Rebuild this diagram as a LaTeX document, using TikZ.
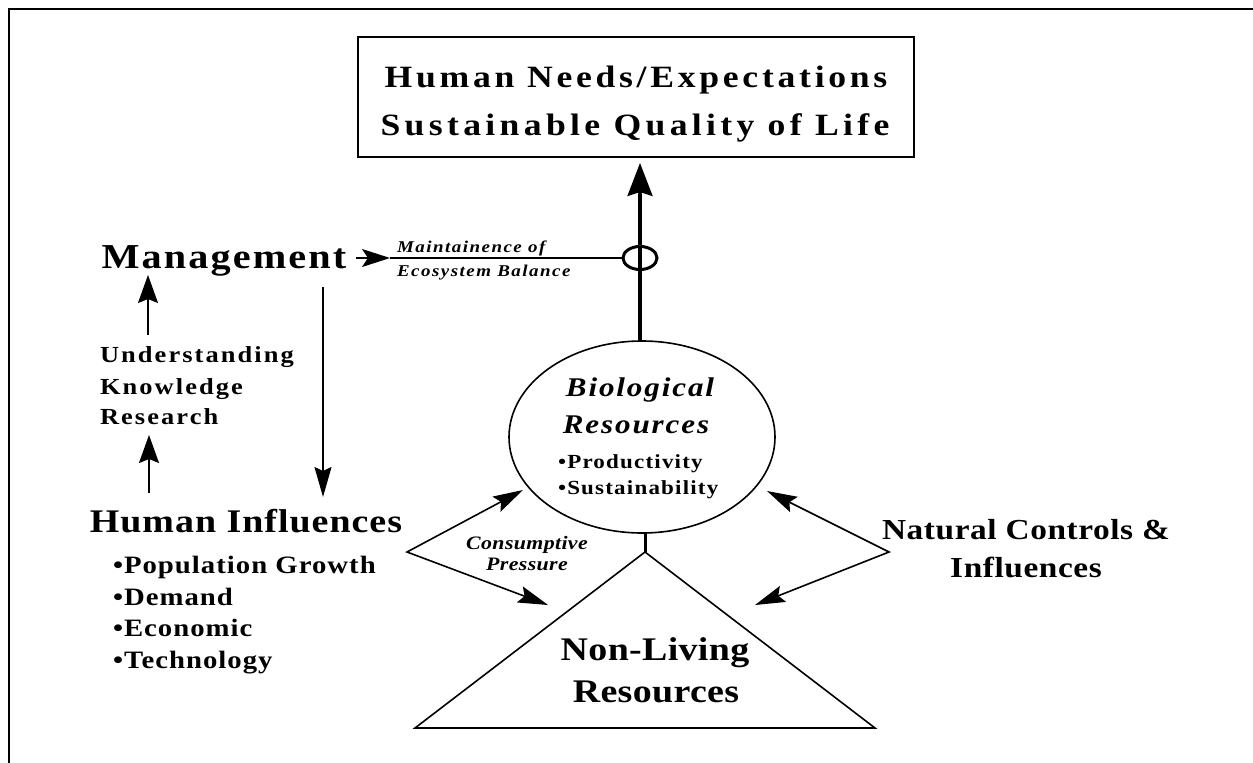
\documentclass[tikz,border=0pt]{standalone}
\usepackage{fontspec}
\setmainfont{Liberation Serif}
\usetikzlibrary{arrows.meta,shapes.geometric}
\newcommand\lsb[3]{{\fontsize{#1}{#1}\selectfont\bfseries\addfontfeatures{FakeStretch=1.15,LetterSpace=#2}#3}}
\newcommand\lsi[3]{{\fontsize{#1}{#1}\selectfont\bfseries\itshape\addfontfeatures{FakeStretch=1.15,LetterSpace=#2}#3}}
\begin{document}
\begin{tikzpicture}[x=1pt,y=-1pt,
  every node/.style={inner sep=0pt, outer sep=0pt},
  ln/.style={line width=1.6pt},
  uparr/.style={ln,-{Stealth[length=28pt,width=20pt,inset=4pt]}},
  dnarr/.style={ln,-{Stealth[length=30pt,width=17pt,inset=4pt]}},
  mgarr/.style={ln,-{Stealth[length=28pt,width=18pt,inset=6pt]}},
  bigarr/.style={line width=3.2pt,-{Stealth[length=33pt,width=25pt,inset=4pt]}},
  dbl/.style={ln,line join=miter,{Stealth[length=30pt,width=17pt,inset=5pt]}-{Stealth[length=30pt,width=17pt,inset=5pt]}},
  shapeline/.style={ln,draw}
]
\useasboundingbox (0,0) rectangle (1253,763);
% frame
\draw[line width=2pt] (9,763) -- (9,9) -- (1253,9);

% title box
\node[shapeline, minimum width=556pt, minimum height=120pt] (title) at (636,97) {};
\node[anchor=base] (t1) at (636,87) {\lsb{31}{12}{Human Needs/Expectations}};
\node[anchor=base] (t2) at (635,135) {\lsb{31}{14}{Sustainable Quality of Life}};

% management column
\node[anchor=base] (mgmt) at (224,268) {\lsb{35}{6}{Management}};
\node[anchor=base west] (und) at (100,362) {\lsb{23}{9}{Understanding}};
\node[anchor=base west] (know) at (100,394) {\lsb{23}{9}{Knowledge}};
\node[anchor=base west] (res) at (100,424) {\lsb{23}{9}{Research}};
\node[anchor=base] (hinf) at (246,532) {\lsb{33}{3}{Human Influences}};
\node[anchor=base west] (b1) at (113,573) {\lsb{25}{4}{•Population Growth}};
\node[anchor=base west] (b2) at (113,605) {\lsb{25}{4}{•Demand}};
\node[anchor=base west] (b3) at (113,636) {\lsb{25}{4}{•Economic}};
\node[anchor=base west] (b4) at (113,668) {\lsb{25}{4}{•Technology}};

% maintenance label
\node[anchor=base west] (m1) at (397,252) {\lsi{16.5}{9}{Maintainence of}};
\node[anchor=base west] (m2) at (397,276) {\lsi{16.5}{9}{Ecosystem Balance}};

% biological resources
\node[shapeline, ellipse, minimum width=266pt, minimum height=192pt] (bio) at (642,437) {};
\node[anchor=base] (bio1) at (640,396) {\lsi{27}{7}{Biological}};
\node[anchor=base] (bio2) at (636,433) {\lsi{27}{7}{Resources}};
\node[anchor=base west] (bio3) at (558,468) {\lsb{20}{6}{•Productivity}};
\node[anchor=base west] (bio4) at (558,494) {\lsb{20}{6}{•Sustainability}};

% ring on the vertical arrow
\node[draw, ellipse, line width=3pt, minimum width=34pt, minimum height=23pt] (ring) at (640,258) {};

% non-living resources triangle
\coordinate (apex) at (645,552);
\coordinate (bl) at (415,728);
\coordinate (br) at (875,728);
\draw[ln, line join=miter] (bl) -- (apex) -- (br) -- cycle;
\draw[line width=2.6pt] (bl) -- (br);
\node[anchor=base] (nl1) at (655,660) {\lsb{33}{1}{Non-Living}};
\node[anchor=base] (nl2) at (656,702) {\lsb{33}{1}{Resources}};

% consumptive pressure
\node[anchor=base] (c1t) at (527,549) {\lsi{19}{2}{Consumptive}};
\node[anchor=base] (c2t) at (527,570) {\lsi{19}{2}{Pressure}};

% natural controls
\node[anchor=base] (nat1) at (1026,539) {\lsb{29}{2}{Natural Controls \&}};
\node[anchor=base] (nat2) at (1026,577) {\lsb{29}{2}{Influences}};

% connectors
\draw[bigarr, shorten >=6pt] (bio.north -| ring) -- (ring |- title.south);
\draw[line width=3pt] (apex) -- (apex |- bio.south);

\coordinate (mtip) at (390,258);
\draw[mgarr, shorten <=10pt] (mgmt.east |- ring) -- (mtip);
\draw[ln] (mtip) -- (ring.west);

\coordinate (ua1s) at (148,335);
\coordinate (ua1t) at (148,275);
\draw[uparr] (ua1s) -- (ua1t);
\coordinate (ua2s) at (149,493);
\coordinate (ua2t) at (149,435);
\draw[uparr] (ua2s) -- (ua2t);
\coordinate (da1s) at (323,287);
\coordinate (da1t) at (323,497);
\draw[dnarr] (da1s) -- (da1t);

\coordinate (cb) at (523,490);
\coordinate (cv) at (407,552);
\coordinate (cn) at (548,605);
\draw[dbl] (cb) -- (cv) -- (cn);

\coordinate (rb) at (767,491);
\coordinate (rv) at (889,552);
\coordinate (rn) at (755,605);
\draw[dbl] (rb) -- (rv) -- (rn);
\end{tikzpicture}
\end{document}
